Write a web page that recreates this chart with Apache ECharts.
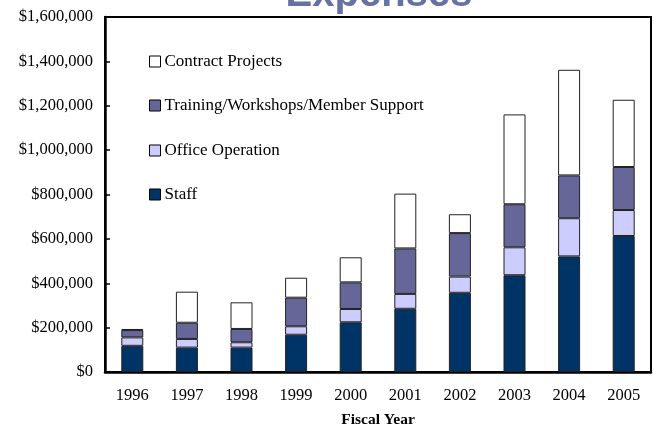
<!DOCTYPE html>
<html>
<head>
<meta charset="utf-8">
<script src="https://cdn.jsdelivr.net/npm/echarts@6/dist/echarts.min.js"></script>
<style>
html,body{margin:0;padding:0;background:#fff;}
#chart{width:654px;height:428px;}
</style>
</head>
<body>
<div id="chart"></div>
<script>
var categories = ['1996','1997','1998','1999','2000','2001','2002','2003','2004','2005'];
var staff    = [118000,110000,110000,168000,224000,285000,357000,436000,521000,613000];
var office   = [38000, 39000, 24000, 38000, 60000, 67000, 73000, 126000,172000,117000];
var training = [33000, 73000, 60000, 129000,120000,205000,196000,194000,193000,194000];
var contract = [5000, 140000,120000,90000, 113000,247000,85000, 405000,476000,303000];
var seriesNames = ['Staff','Office Operation','Training/Workshops/Member Support','Contract Projects'];
var legendOrder = ['Contract Projects','Training/Workshops/Member Support','Office Operation','Staff'];

var serif = '"Liberation Serif","Times New Roman",serif';
var colors = ['#003366','#ccccff','#666699','#ffffff'];
var values = [staff, office, training, contract];

var legendTops = [48, 92, 137, 181];
var legends = legendOrder.map(function(n, i){
  return {
    data:[n], left:144, top:legendTops[i], orient:'vertical',
    itemWidth:11, itemHeight:11, itemGap:0,
    icon:'rect',
    itemStyle:{borderColor:'#000', borderWidth:1},
    textStyle:{fontFamily:serif, fontSize:17, color:'#000', padding:[0,0,0,-1]},
    selectedMode:false
  };
});

var chart = echarts.init(document.getElementById('chart'));
chart.setOption({
  animation:false,
  backgroundColor:'#fff',
  graphic:[{
    type:'text', z:100, x:379, y:-25,
    style:{text:'Expenses', font:'bold 40px "Liberation Sans",Arial,sans-serif', fill:'#6672a4',
           align:'center', verticalAlign:'top'}
  }],
  legend:legends,
  grid:{left:105, right:3, top:17, bottom:56, show:true, borderColor:'#000', borderWidth:2,
        containLabel:false, outerBoundsMode:'none'},
  xAxis:{
    type:'category', data:categories,
    axisLine:{lineStyle:{color:'#000', width:2.5}},
    axisTick:{show:false},
    axisLabel:{fontFamily:serif, fontSize:16.5, color:'#000', margin:15},
    name:'Fiscal Year', nameLocation:'middle', nameGap:40,
    nameTextStyle:{fontFamily:serif, fontSize:15.5, fontWeight:'bold', color:'#000'}
  },
  yAxis:{
    type:'value', min:0, max:1600000, interval:200000,
    axisLine:{show:true, lineStyle:{color:'#000', width:2.5}},
    axisTick:{show:true, inside:true, length:5, lineStyle:{color:'#000', width:1.5}},
    splitLine:{show:false},
    axisLabel:{fontFamily:serif, fontSize:16.5, color:'#000', margin:12,
      formatter:function(v){return '$' + v.toLocaleString('en-US');}}
  },
  series: seriesNames.map(function(n, i){
    return {
      name:n, type:'bar', stack:'total', barWidth:22, data:values[i],
      itemStyle:{color:colors[i], borderColor:'#222', borderWidth:1}
    };
  })
});
</script>
</body>
</html>
